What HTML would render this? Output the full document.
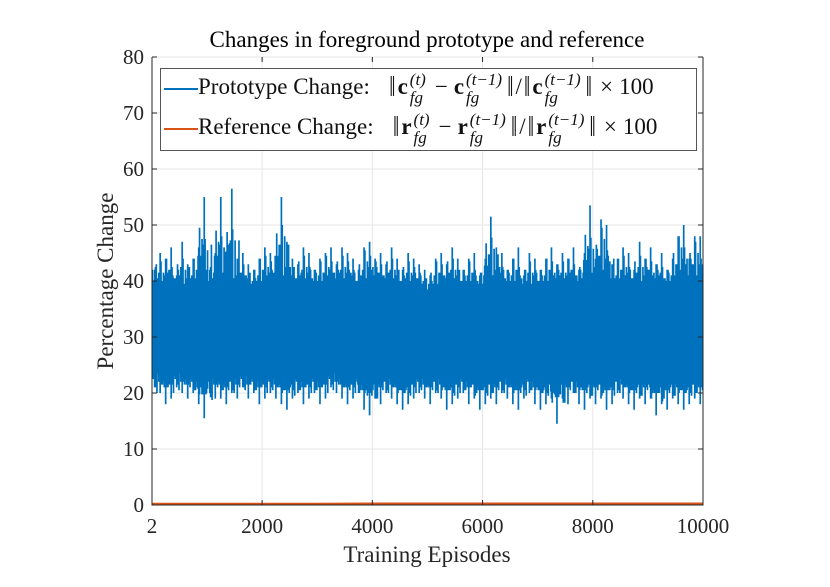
<!DOCTYPE html>
<html><head><meta charset="utf-8"><style>
body{margin:0;background:#fff;width:830px;height:587px;overflow:hidden;position:relative;font-family:"Liberation Serif",serif;}
svg{position:absolute;left:0;top:0}
.leg{position:absolute;font-size:23px;color:#111;white-space:nowrap}
.st{display:inline-block;vertical-align:middle;line-height:1.05;position:relative;font-size:17px;text-align:left;margin:0 3px 0 2px}
.st span{display:block}
b{font-weight:bold}
.n{display:inline-block;transform:scaleY(1.25);margin:0 2px}
.op{margin:0 6px}
</style></head><body>
<svg id="chart" width="830" height="587"></svg>
<div class="leg" style="left:160px;top:68px;width:535px;height:81px;border:1px solid #555;background:#fff">
 <div style="position:absolute;left:3px;top:2px">
  <span style="display:inline-block;width:34px;border-top:2px solid #0072BD;vertical-align:middle"></span>Prototype Change: &nbsp;&nbsp;<span class="n">‖</span><b>c</b><span class="st"><span><i>(t)</i></span><span><i>fg</i></span></span><span class="op">−</span><b>c</b><span class="st"><span><i>(t−1)</i></span><span><i>fg</i></span></span><span class="n">‖</span>/<span class="n">‖</span><b>c</b><span class="st"><span><i>(t−1)</i></span><span><i>fg</i></span></span><span class="n">‖</span><span class="op">×</span>100
 </div>
 <div style="position:absolute;left:3px;top:42px">
  <span style="display:inline-block;width:34px;border-top:2px solid #D95319;vertical-align:middle"></span>Reference Change: &nbsp;&nbsp;<span class="n">‖</span><b>r</b><span class="st"><span><i>(t)</i></span><span><i>fg</i></span></span><span class="op">−</span><b>r</b><span class="st"><span><i>(t−1)</i></span><span><i>fg</i></span></span><span class="n">‖</span>/<span class="n">‖</span><b>r</b><span class="st"><span><i>(t−1)</i></span><span><i>fg</i></span></span><span class="n">‖</span><span class="op">×</span>100
 </div>
</div>
<script>
const xTicks=[2,2000,4000,6000,8000,10000];
const yTicks=[0,10,20,30,40,50,60,70,80];
const binSize=100;
const protoHigh=[42,45,44,46,41,47,43,44,46,55,42,45,55,43,56.5,44,45,43,42,44,46,45,44,55,47,44,43,46,45,42,44,45,46,43,46,45,44,42,46,47,44,45,43,46,44,42,45,44,43,42,41,44,45,43,46,44,42,44,45,41,44,51.5,46,45,42,44,46,41,45,44,42,44,46,43,45,44,46,42,45,53.5,44,51,50,43,44,46,45,42,47,44,46,43,45,42,44,48,50,44,48,48];
const protoLow=[21,20,18,19,21,20,19,20,18,15.5,20,19,19,18,20,19,21,19,20,18,19,20,19,18,17,19,20,18,19,20,18,19,21,20,19,18,19,20,17,16,19,18,20,19,18,17,18,19,20,19,18,20,19,17,18,19,20,18,19,17,18,19,18,20,19,18,17,19,20,18,17,18,19,14.5,19,18,20,18,17,19,18,19,17,18,20,19,18,17,19,18,19,16,18,17,19,18,17,18,19,18];
const coreHigh=[35,36,35,35,35,35,35,35,35,36];
const coreLow=[25,25,25,25,25,25,25,25,25,25];
const refVals=[0.2,0.2,0.2,0.2,0.25,0.25,0.25,0.25,0.25,0.25];
const L=152,R=703,T=57,B=505;
const xs=v=>L+(v-2)/(10000-2)*(R-L);
const ys=v=>B-v/80*(B-T);
const svg=document.getElementById('chart');
const NS='http://www.w3.org/2000/svg';
function mk(t,a){const e=document.createElementNS(NS,t);for(const k in a)e.setAttribute(k,a[k]);svg.appendChild(e);return e;}
xTicks.forEach(v=>{const g=mk('line',{x1:xs(v),x2:xs(v),y1:T,y2:B,stroke:'#e6e6e6','stroke-width':1});

});
yTicks.forEach(v=>{const g=mk('line',{x1:L,x2:R,y1:ys(v),y2:ys(v),stroke:'#e6e6e6','stroke-width':1});

});
let pts=[];
coreHigh.forEach((v,i)=>pts.push(xs(i*1000+(i==0?2:0))+','+ys(v)));
pts.push(xs(10000)+','+ys(coreHigh[coreHigh.length-1]));
pts.push(xs(10000)+','+ys(coreLow[coreLow.length-1]));
for(let i=coreLow.length-1;i>=0;i--)pts.push(xs(i*1000+(i==0?2:0))+','+ys(coreLow[i]));
const band=mk('polygon',{points:pts.join(' '),fill:'#0072BD'});


let d='';
const n=protoHigh.length;
protoHigh.forEach((h,i)=>{
 const hn=protoHigh[(i+1)%n],hp=protoHigh[(i+n-1)%n],ln=protoLow[(i+1)%n],lp=protoLow[(i+n-1)%n],l=protoLow[i];
 const x=xs(i*binSize+binSize/2);d+=`M${x},${ys(h)}L${x},${ys(l)}`;
 const vals=[[0.1,(hp+h)/2-3,(lp+l)/2+3],[0.25,(h+36)/2+1,(l+26)/2-1],[0.38,(hn+38)/2-2,(ln+24)/2+1],[0.65,(hn+h)/2-1,(ln+lp)/2+2],[0.8,(hp+38)/2,(l+24)/2],[0.92,(hn+40)/2-3,(lp+26)/2-2]];
 vals.forEach(([f,a,b])=>{const xx=xs(i*binSize+f*binSize);d+=`M${xx},${ys(a)}L${xx},${ys(b)}`;});
});
const sp=mk('path',{d:d,stroke:'#0072BD','stroke-width':1.7,fill:'none'});


let rd='';
refVals.forEach((v,i)=>{rd+=(i?'L':'M')+xs(i*1000+(i==0?2:0))+','+ys(v);});
rd+='L'+xs(10000)+','+ys(refVals[refVals.length-1]);
const rl=mk('path',{d:rd,stroke:'#D95319','stroke-width':2.2,fill:'none'});


const ax=mk('path',{d:`M${L},${T}L${L},${B}L${R},${B}L${R},${T}`,stroke:'#262626','stroke-width':1,fill:'none'});


xTicks.forEach(v=>{mk('path',{d:`M${xs(v)},${B}v-5M${xs(v)},${T}v5`,stroke:'#262626'});
const t=mk('text',{x:xs(v),y:B+28,'text-anchor':'middle','font-size':21,fill:'#262626','font-family':'Liberation Serif'});t.textContent=v;

});
yTicks.forEach(v=>{mk('path',{d:`M${L},${ys(v)}h5M${R},${ys(v)}h-5`,stroke:'#262626'});
const t=mk('text',{x:L-8,y:ys(v)+7,'text-anchor':'end','font-size':21,fill:'#262626','font-family':'Liberation Serif'});t.textContent=v;

});
const xt=mk('text',{x:427,y:562,'text-anchor':'middle','font-size':23,fill:'#262626','font-family':'Liberation Serif'});xt.textContent='Training Episodes';


const yt=mk('text',{x:0,y:0,'text-anchor':'middle','font-size':23,fill:'#262626','font-family':'Liberation Serif',transform:'translate(113,281) rotate(-90)'});yt.textContent='Percentage Change';


const tt=mk('text',{x:427,y:47,'text-anchor':'middle','font-size':23,fill:'#000','font-family':'Liberation Serif'});tt.textContent='Changes in foreground prototype and reference';


</script>
</body></html>
